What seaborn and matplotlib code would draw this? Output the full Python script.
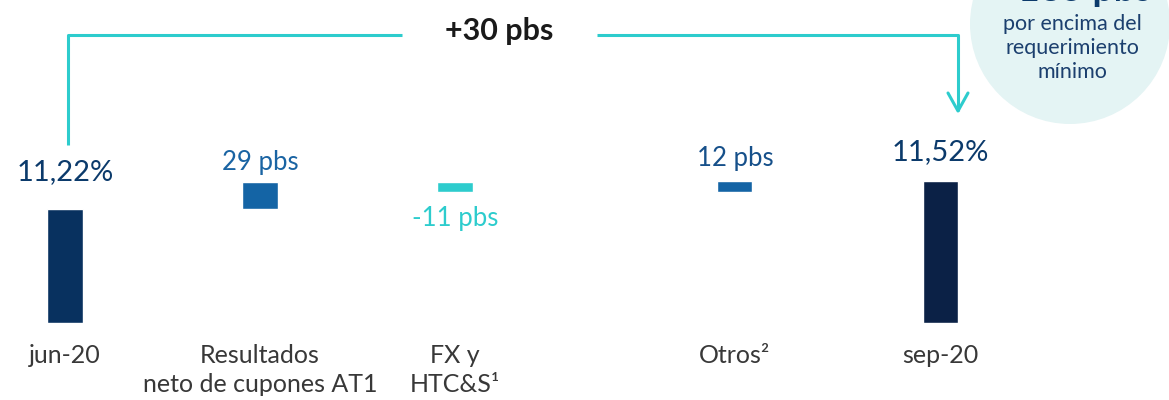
"""
Waterfall CET1 jun-20 -> sep-20 (BBVA-style slide), seaborn + matplotlib.
"""
import numpy as np
import pandas as pd
import matplotlib
matplotlib.use("Agg")
import matplotlib.pyplot as plt
from matplotlib.patches import Circle
from matplotlib.transforms import IdentityTransform
import seaborn as sns

# ---- data -------------------------------------------------------------------
steps = ["jun-20", "Resultados", "FX", "Otros", "sep-20"]
tick_labels = ["jun-20", "Resultados\nneto de cupones AT1", "FX y\nHTC&S\u00b9",
               "Otros\u00b2", "sep-20"]
kind = ["total", "delta", "delta", "delta", "total"]
ratio_start = 11.22           # %
deltas_pbs = [29, -11, 12]    # puntos básicos
ratio_end = 11.52             # %
value_labels = ["11,22%", "29 pbs", "-11 pbs", "12 pbs", "11,52%"]
bracket_label = "+30 pbs"
circle_big = "185 pbs"
circle_text = "por encima del\nrequerimiento\nmínimo"

# ---- layout / styles ---------------------------------------------------------
slot_x = [0.0, 1.0, 2.0, 3.435, 4.49]   # horizontal slot of each step
label_gap = [29, 12, -14, 15, 21]       # px between bar edge and its label
FLOOR = 10.0                            # visual floor of the total bars
colors = ["#08315f", "#1464a5", "#2dcccd", "#1464a5", "#0b2146"]
label_colors = ["#0b3a6b", "#1a64a3", "#2dcccd", "#16508a", "#0b3a6b"]
CYAN = "#2dcccd"
W, H, DPI = 1169, 400, 100

# waterfall geometry from the data
bottoms, heights = [], []
level = ratio_start
for k, s in zip(kind, steps):
    if s == steps[0]:
        bottoms.append(FLOOR); heights.append(ratio_start - FLOOR)
    elif k == "total":
        bottoms.append(FLOOR); heights.append(ratio_end - FLOOR)
    else:
        d = deltas_pbs[steps.index(s) - 1] / 100
        bottoms.append(level); heights.append(d); level += d

df = pd.DataFrame({"step": steps, "x": slot_x, "h": heights})

sns.set_theme(style="white")
plt.rcParams["font.family"] = ["Lato", "DejaVu Sans"]

fig = plt.figure(figsize=(W / DPI, H / DPI), dpi=DPI)
base_px = 322.7
ax = fig.add_axes([0, (H - base_px) / H, 1, base_px / H])
px_per_pct = 93.3
ax.set_ylim(FLOOR, FLOOR + base_px / px_per_pct)
ax.set_xlim(-65 / 195, (W - 65) / 195)

sns.barplot(data=df, x="x", y="h", hue="step", hue_order=steps,
            palette=dict(zip(steps, colors)), native_scale=True,
            width=0.18, legend=False, ax=ax, saturation=1)

# lift every bar onto its waterfall bottom
for p in ax.patches:
    cx = p.get_x() + p.get_width() / 2
    i = int(np.argmin([abs(cx - sx) for sx in slot_x]))
    p.set_y(bottoms[i])

# value labels
for i, (sx, lab) in enumerate(zip(slot_x, value_labels)):
    top = max(bottoms[i], bottoms[i] + heights[i])
    low = min(bottoms[i], bottoms[i] + heights[i])
    size = 21 if kind[i] == "total" else 18.5
    if heights[i] >= 0:
        ax.annotate(lab, (sx, top), xytext=(0, label_gap[i]), textcoords="offset pixels",
                    ha="center", va="baseline", fontsize=size, color=label_colors[i])
    else:
        ax.annotate(lab, (sx, low), xytext=(0, label_gap[i]), textcoords="offset pixels",
                    ha="center", va="top", fontsize=size, color=label_colors[i])

ax.set_xticks(slot_x, tick_labels)
ax.tick_params(axis="x", length=0, pad=15, labelsize=18, labelcolor="#383838")
for t in ax.get_xticklabels():
    t.set_linespacing(1.35)
ax.set_yticks([])
ax.set_xlabel(""); ax.set_ylabel("")
sns.despine(ax=ax, left=True, bottom=True)

# ---- bracket +30 pbs (figure pixel coords, y from top) ------------------------
def fx(x): return x / W
def fy(y): return 1 - y / H

line_kw = dict(color=CYAN, lw=2.2, transform=fig.transFigure, solid_capstyle="butt")
fig.add_artist(plt.Line2D([fx(68), fx(68), fx(402)], [fy(145), fy(35), fy(35)], **line_kw))
fig.add_artist(plt.Line2D([fx(597), fx(958), fx(958)], [fy(35), fy(35), fy(111)], **line_kw))
fig.add_artist(plt.Line2D([fx(948), fx(958), fx(968)], [fy(93), fy(111), fy(93)],
                          color=CYAN, lw=2.2, transform=fig.transFigure))
fig.text(fx(499), fy(31), bracket_label, ha="center", va="center", fontsize=22,
         fontweight="bold", color="#1a1a1a")

# circle with requirement note (drawn in pixel space so it stays round)
circ = Circle((1070, H - 24), radius=100, transform=IdentityTransform(),
              facecolor="#e4f4f4", edgecolor="none", zorder=0)
fig.patches.append(circ)
fig.text(fx(1085), fy(1), circle_big, ha="center", va="baseline", fontsize=27,
         fontweight="bold", color="#0b3a6b")
fig.text(fx(1072), fy(48), circle_text, ha="center", va="center", fontsize=15.5,
         color="#1b3f6e", linespacing=1.22)

fig.savefig("out.png", dpi=DPI, facecolor="white")
